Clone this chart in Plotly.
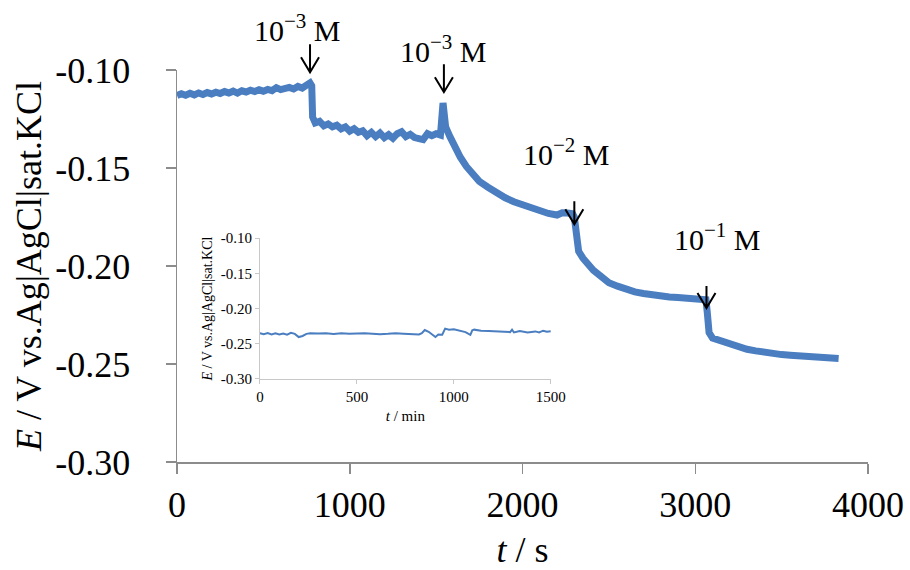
import plotly.graph_objects as go

# ---- main trace: time (s) and potential (V) ----
t_s = [0, 25, 50, 75, 100, 125, 150, 175, 200, 225, 250, 275, 300, 325, 350, 375,
       400, 425, 450, 475, 500, 525, 550, 575, 600, 625, 650, 675, 700, 725, 750, 770,
       780, 785, 800, 825, 850, 875, 900, 925, 950, 975, 1000, 1025, 1050, 1075, 1100,
       1125, 1150, 1175, 1200, 1225, 1250, 1275, 1300, 1325, 1350, 1375, 1400, 1425,
       1450, 1475, 1500, 1525, 1540, 1555, 1580, 1610, 1640, 1675, 1710, 1750, 1800,
       1850, 1900, 1950, 2000, 2050, 2100, 2150, 2200, 2230, 2260, 2290, 2300, 2310,
       2325, 2350, 2380, 2410, 2450, 2500, 2550, 2600, 2650, 2700, 2750, 2800, 2850,
       2900, 2950, 3000, 3050, 3062, 3070, 3080, 3100, 3140, 3200, 3250, 3300, 3350,
       3400, 3450, 3500, 3550, 3600, 3650, 3700, 3750, 3800, 3830]
E_V = [-0.1130, -0.1121, -0.1129, -0.1119, -0.1127, -0.1117, -0.1125, -0.1115, -0.1122,
       -0.1113, -0.1120, -0.1110, -0.1117, -0.1108, -0.1118, -0.1106, -0.1112, -0.1103,
       -0.1110, -0.1101, -0.1108, -0.1099, -0.1105, -0.1090, -0.1100, -0.1094, -0.1089,
       -0.1097, -0.1084, -0.1092, -0.1080, -0.1066,
       -0.1080, -0.1240, -0.1270, -0.1262, -0.1285, -0.1275, -0.1290, -0.1282, -0.1300,
       -0.1290, -0.1312, -0.1300, -0.1318, -0.1310, -0.1335, -0.1318, -0.1340, -0.1322,
       -0.1345, -0.1330, -0.1348, -0.1325, -0.1315, -0.1340, -0.1328, -0.1345, -0.1350,
       -0.1355, -0.1325, -0.1335, -0.1325, -0.1332, -0.1168, -0.1290, -0.1340, -0.1395,
       -0.1445, -0.1492, -0.1533, -0.1568, -0.1598, -0.1628, -0.1652, -0.1672, -0.1688,
       -0.1702, -0.1715, -0.1732, -0.1740, -0.1728, -0.1730, -0.1733, -0.1750, -0.1860,
       -0.1925, -0.1960, -0.1995, -0.2022, -0.2050, -0.2085, -0.2103, -0.2120, -0.2132,
       -0.2140, -0.2148, -0.2153, -0.2158, -0.2161, -0.2164, -0.2168, -0.2170, -0.2172,
       -0.2240, -0.2340, -0.2368, -0.2380, -0.2398, -0.2415, -0.2425, -0.2433, -0.2442,
       -0.2446, -0.2452, -0.2455, -0.2458, -0.2462, -0.2463, -0.2468, -0.2466, -0.2472]

# ---- inset trace: time (min) and potential (V) ----
t_min = [0, 20, 40, 60, 80, 100, 120, 140, 160, 180, 200, 220, 240, 260, 300, 340, 380,
         420, 460, 500, 540, 580, 620, 660, 700, 740, 780, 820, 835, 850, 870, 890, 905,
         920, 940, 955, 975, 1000, 1030, 1060, 1085, 1095, 1105, 1140, 1180, 1220, 1260,
         1290, 1300, 1310, 1340, 1380, 1420, 1440, 1460, 1480, 1500]
E_inset = [-0.2352, -0.2365, -0.2350, -0.2368, -0.2352, -0.2370, -0.2355, -0.2372,
           -0.2345, -0.2360, -0.2405, -0.2390, -0.2360, -0.2352, -0.2355, -0.2350,
           -0.2362, -0.2352, -0.2360, -0.2355, -0.2350, -0.2358, -0.2365, -0.2360,
           -0.2352, -0.2358, -0.2362, -0.2368, -0.2350, -0.2305, -0.2330, -0.2380,
           -0.2405, -0.2370, -0.2372, -0.2285, -0.2300, -0.2295, -0.2315, -0.2335,
           -0.2375, -0.2310, -0.2300, -0.2315, -0.2318, -0.2320, -0.2330, -0.2335,
           -0.2300, -0.2340, -0.2320, -0.2340, -0.2325, -0.2340, -0.2315, -0.2330,
           -0.2322]

# ---- tick labels ----
x_ticks = [0, 1000, 2000, 3000, 4000]
y_ticks = [-0.30, -0.25, -0.20, -0.15, -0.10]
y_ticktext = ["-0.30", "-0.25", "-0.20", "-0.15", "-0.10"]
xi_ticks = [0, 500, 1000, 1500]

# ---- concentration markers (label, arrow tip t, arrow tip E, label t, label E) ----
conc_labels = ["10<sup>\u22123</sup> M", "10<sup>\u22123</sup> M",
               "10<sup>\u22122</sup> M", "10<sup>\u22121</sup> M"]
arrow_t = [770, 1545, 2300, 3065]
arrow_E = [-0.1012, -0.1113, -0.1787, -0.2214]
arrow_len = [28, 28, 23, 22]
label_t = [700, 1540, 2257, 3131]
label_E = [-0.0786, -0.0895, -0.1420, -0.1852]

Y_MIN, Y_MAX = -0.30, -0.10


def to_paper(e):
    return (e - Y_MIN) / (Y_MAX - Y_MIN)


BLUE = "#4A7EC0"
SERIF = "Liberation Serif"

fig = go.Figure()
fig.add_trace(go.Scatter(x=t_s, y=E_V, mode="lines",
                         line=dict(color=BLUE, width=7), xaxis="x", yaxis="y",
                         showlegend=False, hoverinfo="skip"))
fig.add_trace(go.Scatter(x=t_min, y=E_inset, mode="lines",
                         line=dict(color=BLUE, width=2), xaxis="x2", yaxis="y2",
                         showlegend=False, hoverinfo="skip"))

annotations = []
shapes = []
for lab, at, ae, al, lt, le in zip(conc_labels, arrow_t, arrow_E, arrow_len, label_t, label_E):
    annotations.append(dict(x=lt, y=to_paper(le), xref="x", yref="paper", text=lab,
                            showarrow=False,
                            font=dict(family=SERIF, size=30, color="black"),
                            xanchor="center", yanchor="middle"))
    shapes.append(dict(type="path", xref="x", yref="paper", xsizemode="pixel",
                       ysizemode="pixel", xanchor=at, yanchor=to_paper(ae),
                       path=f"M0,0 L0,{al} M-9,15 L0,0 L9,15",
                       line=dict(color="black", width=2)))

fig.update_layout(
    width=910, height=570,
    margin=dict(l=177, r=42, t=70, b=108),
    paper_bgcolor="white", plot_bgcolor="white",
    font=dict(family=SERIF, color="black"),
    xaxis=dict(range=[0, 4000], tickvals=x_ticks, showgrid=False, zeroline=False,
               automargin=False, ticklabeloverflow="allow",
               showline=True, linecolor="#8c8c8c", linewidth=1.5,
               ticks="outside", ticklen=10, tickcolor="#8c8c8c", tickwidth=1.5,
               tickfont=dict(family=SERIF, size=36, color="black"),
               ticklabelstandoff=0,
               title=dict(text="<i>t</i> / s", font=dict(family=SERIF, size=36),
                          standoff=13)),
    yaxis=dict(range=[Y_MIN, Y_MAX], tickvals=y_ticks, ticktext=y_ticktext,
               showgrid=False, zeroline=False, automargin=False,
               showline=True, linecolor="#8c8c8c", linewidth=1.5,
               ticks="outside", ticklen=10, tickcolor="#8c8c8c", tickwidth=1.5,
               tickfont=dict(family=SERIF, size=36, color="black"),
               ticklabelstandoff=28,
               title=dict(text="<i>E</i> / V vs.Ag|AgCl|sat.KCl",
                          font=dict(family=SERIF, size=36), standoff=2)),
    xaxis2=dict(domain=[0.120, 0.541], anchor="y2", range=[0, 1500],
                tickvals=xi_ticks, showgrid=False, zeroline=False,
                showline=True, linecolor="#c8c8c8", linewidth=1,
                ticks="outside", ticklen=4, tickcolor="#c8c8c8",
                tickfont=dict(family=SERIF, size=15, color="black"),
                title=dict(text="<i>t</i> / min", font=dict(family=SERIF, size=15),
                           standoff=6)),
    yaxis2=dict(domain=[0.212, 0.571], anchor="x2", range=[Y_MIN, Y_MAX],
                tickvals=y_ticks, ticktext=y_ticktext,
                showgrid=False, zeroline=False,
                showline=True, linecolor="#c8c8c8", linewidth=1,
                ticks="outside", ticklen=4, tickcolor="#c8c8c8",
                tickfont=dict(family=SERIF, size=15, color="black"),
                title=dict(text="<i>E</i> / V vs.Ag|AgCl|sat.KCl",
                           font=dict(family=SERIF, size=14), standoff=4)),
    annotations=annotations,
    shapes=shapes,
)

# remove the default page margin so the 910x570 figure fills the window exactly
fig.write_html("out.html",
               config={"displayModeBar": False, "staticPlot": True},
               post_script="document.body.style.margin='0';document.body.style.overflow='hidden';")
